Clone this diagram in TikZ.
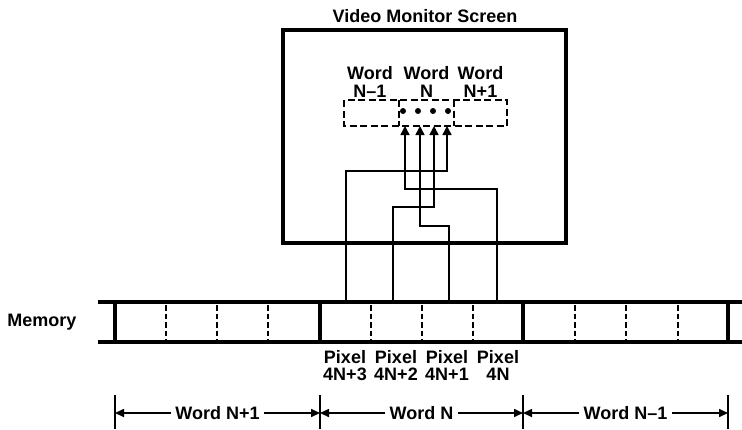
\documentclass[tikz,border=0pt]{standalone}
\usepackage{fontspec}
\setmainfont{Liberation Sans}
\usetikzlibrary{arrows.meta}
\begin{document}
\begin{tikzpicture}[x=1pt,y=-1pt,
  lbl/.style={font=\fontsize{18}{17.5}\selectfont\bfseries, inner sep=0pt, align=center},
  heavy/.style={line width=3.3pt},
  wire/.style={line width=1.6pt},
  dsh/.style={line width=1.7pt, dash pattern=on 7pt off 3.5pt},
  mdsh/.style={line width=1.7pt, dash pattern=on 5.5pt off 3pt},
  arr/.style={wire, -{Triangle[length=9pt,width=9pt]}},
  dimarr/.style={wire, -{Triangle[length=9pt,width=8pt]}},
  dimlbl/.style={lbl, inner xsep=4pt, fill=white}
]
\useasboundingbox (0,0) rectangle (742,429);

% title and monitor
\node[lbl] (title) at (425,16) {Video Monitor Screen};
\node[draw, heavy, minimum width=283pt, minimum height=213pt, inner sep=0pt] (monitor) at (424.5,136.5) {};

% word labels on screen
\node[lbl, font=\fontsize{18}{18}\selectfont\bfseries] (sw1) at (370,82) {Word\\N–1};
\node[lbl, font=\fontsize{18}{18}\selectfont\bfseries] (sw0) at (426.5,82) {Word\\N};
\node[lbl, font=\fontsize{18}{18}\selectfont\bfseries] (sw2) at (480.5,82) {Word\\N+1};

% dashed screen words
\draw[dsh] (344,100) rectangle (507,126);
\draw[dsh] (399,100) -- (399,126);
\draw[dsh] (454,100) -- (454,126);

% dots
\foreach \x in {403,418,433,448} \fill (\x,111) circle[radius=3pt];

% arrow targets
\coordinate (t0) at (405,126);
\coordinate (t1) at (420,126);
\coordinate (t2) at (434,126);
\coordinate (t3) at (447,126);
% bends
\coordinate (b0) at (405,189);
\coordinate (b1) at (420,226);
\coordinate (b2) at (434,207);
\coordinate (b3) at (447,171);
% memory pixel tops
\coordinate (m3) at (346,302);
\coordinate (m2) at (393,302);
\coordinate (m1) at (449,302);
\coordinate (m0) at (497,302);

\draw[arr] (m3) |- (b3) -- (t3);
\draw[arr] (m2) |- (b2) -- (t2);
\draw[arr] (m1) |- (b1) -- (t1);
\draw[arr] (m0) |- (b0) -- (t0);

% memory
\node[lbl] (mem) at (42,322) {Memory};
\draw[heavy] (98,302) -- (742,302);
\draw[heavy] (98,342) -- (742,342);
\foreach \x in {115,320,523,728} \draw[heavy] (\x,302) -- (\x,342);
\foreach \x in {166,217,268,371,422,473,575,626,678} \draw[mdsh] (\x,305) -- (\x,340);

% pixel labels
\node[lbl] (px3) at (345,365.5) {Pixel\\4N+3};
\node[lbl] (px2) at (396,365.5) {Pixel\\4N+2};
\node[lbl] (px1) at (447,365.5) {Pixel\\4N+1};
\node[lbl] (px0) at (498,365.5) {Pixel\\4N};

% dimension row
\foreach \x/\n in {115/k0,320/k1,523/k2,728/k3} {
  \draw[wire] (\x,395) -- (\x,429);
  \coordinate (\n) at (\x,413);
}
\node[dimlbl] (dw2) at (217.5,413) {Word N+1};
\node[dimlbl] (dw0) at (421.5,413) {Word N};
\node[dimlbl] (dw1) at (625.5,413) {Word N–1};
\draw[dimarr] (dw2.west) -- (k0);
\draw[dimarr] (dw2.east) -- (k1);
\draw[dimarr] (dw0.west) -- (k1);
\draw[dimarr] (dw0.east) -- (k2);
\draw[dimarr] (dw1.west) -- (k2);
\draw[dimarr] (dw1.east) -- (k3);
\end{tikzpicture}
\end{document}
